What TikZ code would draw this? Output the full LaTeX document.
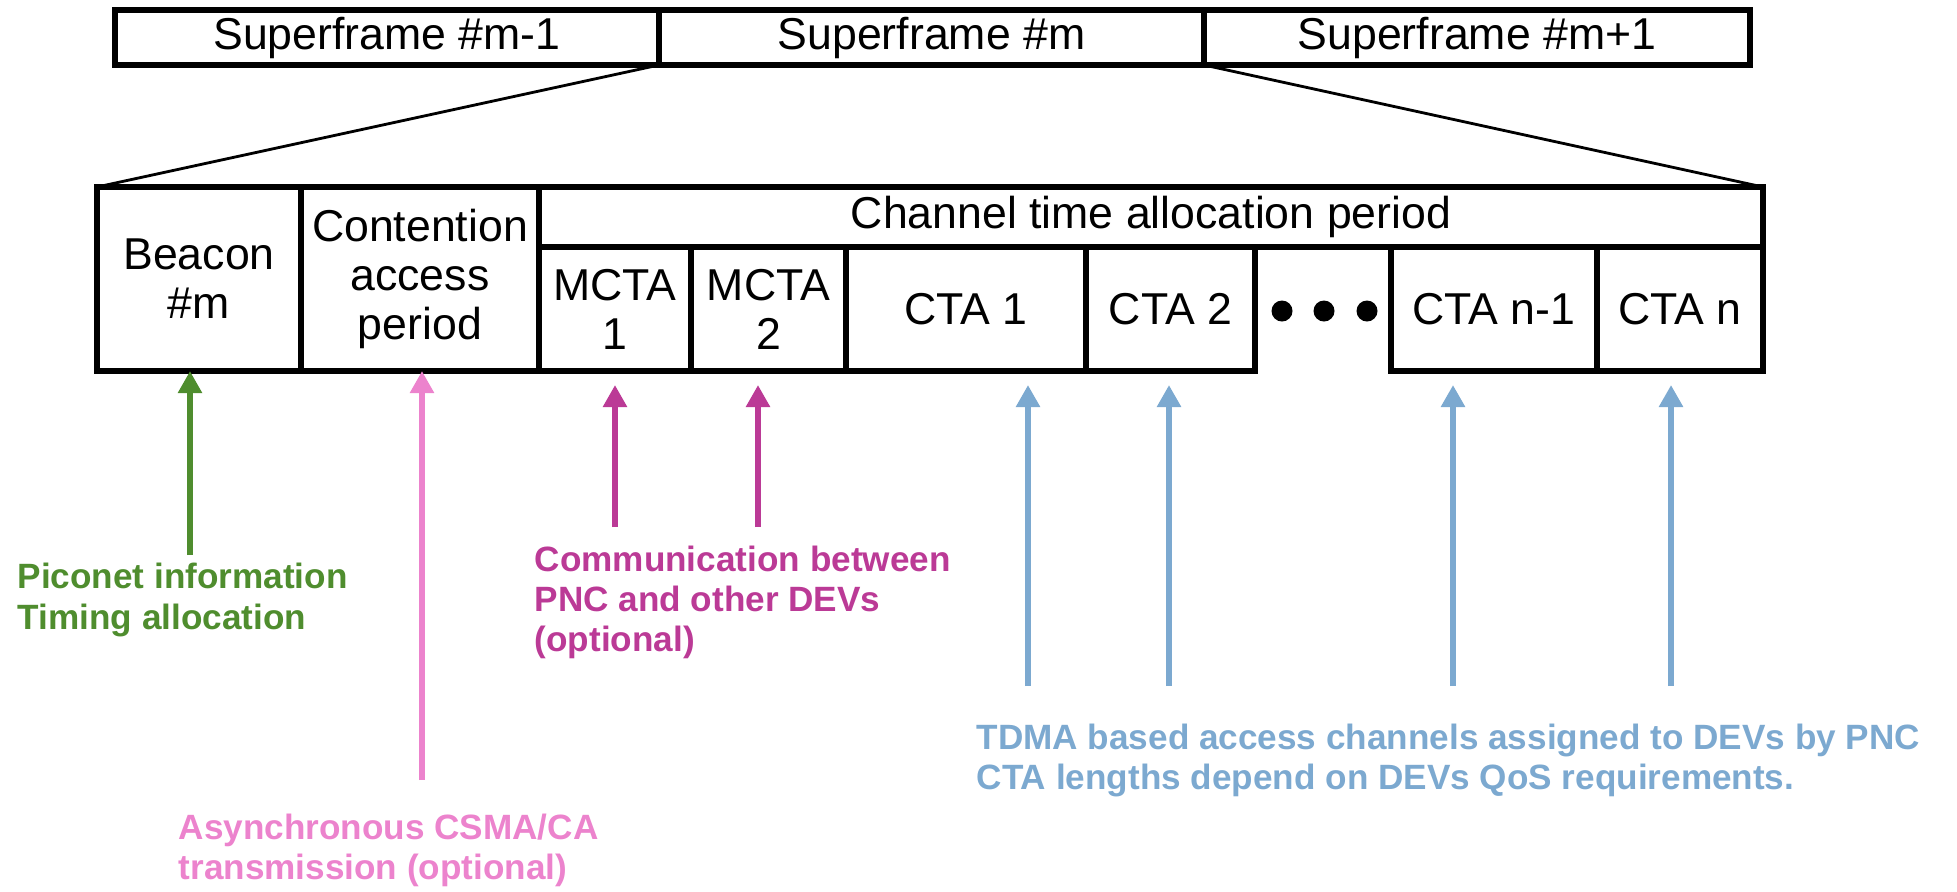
\documentclass[tikz,border=0pt]{standalone}
\usepackage{fontspec}
\setmainfont{Liberation Sans}
\usetikzlibrary{arrows.meta}
\definecolor{pnet}{RGB}{79,141,46}
\definecolor{csma}{RGB}{236,131,205}
\definecolor{mgmt}{RGB}{187,58,150}
\definecolor{tdma}{RGB}{124,169,208}
\begin{document}
\begin{tikzpicture}[font=\fontsize{12.7}{13.9}\selectfont]
  \tikzset{
    frm/.style={draw,line width=1.5pt,outer sep=0pt,inner sep=1pt,align=center,minimum height=1.24cm},
    sf/.style={frm,minimum height=0.55cm},
    dot/.style={circle,fill=black,inner sep=0pt,minimum size=0.21cm},
    lbl/.style={font=\fontsize{10}{11.4}\selectfont\bfseries,align=left,anchor=west,inner sep=0pt},
    ar/.style={line width=1.9pt,-{Triangle[length=2.2mm,width=2.3mm]}}
  }
  \useasboundingbox (0,0) rectangle (19.57,-8.91);
  \node[sf,minimum width=5.44cm] (sfa) at (3.87,-0.375) {Superframe \#m-1};
  \node[sf,minimum width=5.45cm] (sfm) at (9.315,-0.375) {Superframe \#m};
  \node[sf,minimum width=5.46cm] (sfb) at (14.77,-0.375) {Superframe \#m+1};

  \node[frm,minimum width=2.04cm,minimum height=1.84cm] (beacon) at (1.99,-2.79) {Beacon\\\#m};
  \node[frm,minimum width=2.38cm,minimum height=1.84cm] (cap) at (4.20,-2.79) {Contention\\access\\period};
  \node[frm,minimum width=12.24cm,minimum height=0.60cm] (ctap) at (11.51,-2.17) {Channel time allocation period};
  \node[frm,minimum width=1.52cm] (mcta1) at (6.15,-3.09) {MCTA\\1};
  \node[frm,minimum width=1.55cm] (mcta2) at (7.685,-3.09) {MCTA\\2};
  \node[frm,minimum width=2.40cm] (cta1) at (9.66,-3.09) {CTA 1};
  \node[frm,minimum width=1.69cm] (cta2) at (11.705,-3.09) {CTA 2};
  \node[frm,minimum width=2.06cm] (ctan1) at (14.94,-3.09) {CTA n-1};
  \node[frm,minimum width=1.66cm] (ctan) at (16.80,-3.09) {CTA n};
  \foreach \x [count=\i] in {12.82,13.24,13.67}
    \node[dot] (dot\i) at (\x,-3.11) {};

  \draw[line width=0.8pt] (sfm.south west) -- (beacon.north west);
  \draw[line width=0.8pt] (sfm.south east) -- (ctap.north east);

  \node[lbl,text=pnet] (pinfo) at (0.17,-6.00) {Piconet information\\Timing allocation};
  \node[lbl,text=csma] (async) at (1.78,-8.50) {Asynchronous CSMA/CA\\transmission (optional)};
  \node[lbl,text=mgmt] (comm) at (5.34,-6.02) {Communication between\\PNC and other DEVs\\(optional)};
  \node[lbl,text=tdma] (tdmac) at (9.76,-7.60) {TDMA based access channels assigned to DEVs by PNC\\CTA lengths depend on DEVs QoS requirements.};

  \coordinate (gt) at (1.90,-5.55);
  \coordinate (pt) at (4.22,-7.80);
  \coordinate (m1) at (6.15,-5.27);
  \coordinate (m2) at (7.58,-5.27);
  \coordinate (b1) at (10.28,-6.86);
  \coordinate (b2) at (11.69,-6.86);
  \coordinate (b3) at (14.53,-6.86);
  \coordinate (b4) at (16.71,-6.86);

  \draw[ar,pnet] (gt) -- (gt |- beacon.south);
  \draw[ar,csma] (pt) -- (pt |- cap.south);
  \draw[ar,mgmt,shorten >=1.4mm] (m1) -- (m1 |- mcta1.south);
  \draw[ar,mgmt,shorten >=1.4mm] (m2) -- (m2 |- mcta2.south);
  \draw[ar,tdma,shorten >=1.4mm] (b1) -- (b1 |- cta1.south);
  \draw[ar,tdma,shorten >=1.4mm] (b2) -- (b2 |- cta2.south);
  \draw[ar,tdma,shorten >=1.4mm] (b3) -- (b3 |- ctan1.south);
  \draw[ar,tdma,shorten >=1.4mm] (b4) -- (b4 |- ctan.south);
\end{tikzpicture}
\end{document}
